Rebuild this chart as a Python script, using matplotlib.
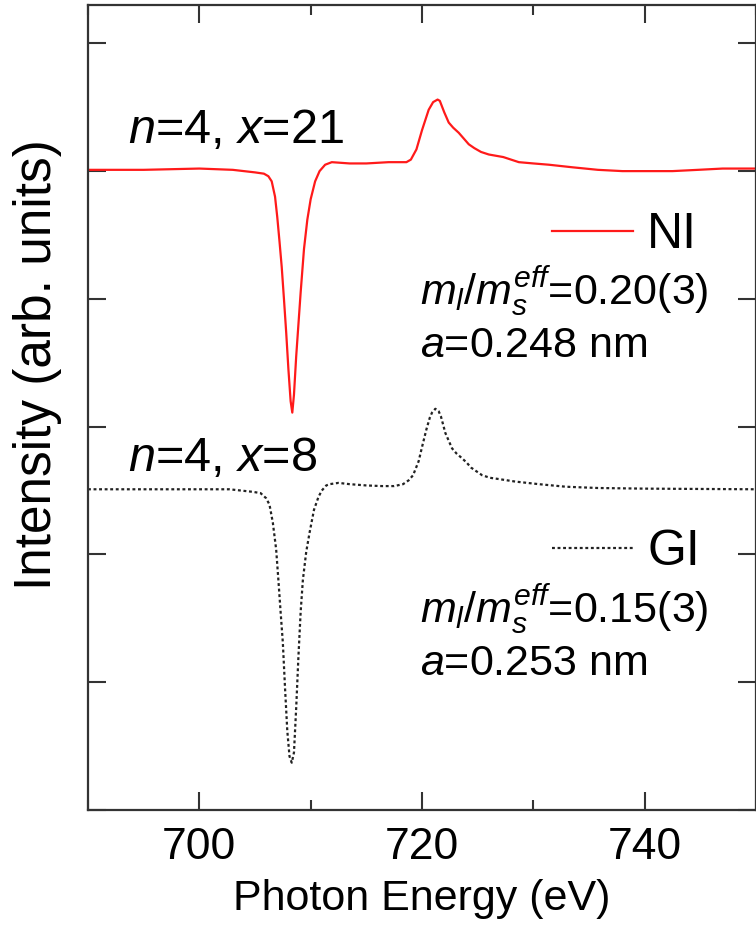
import matplotlib
matplotlib.use("Agg")
import matplotlib.pyplot as plt

plt.rcParams['font.family'] = ['Liberation Sans', 'DejaVu Sans']
plt.rcParams['mathtext.fontset'] = 'custom'
plt.rcParams['mathtext.rm'] = 'Liberation Sans'
plt.rcParams['mathtext.it'] = 'Liberation Sans:italic'
plt.rcParams['mathtext.bf'] = 'Liberation Sans:bold'

# ---- data (photon energy in eV, intensity in arb. units, offset) ----
ni_energy = [690.0, 695.0, 700.0, 703.0, 705.0, 705.8, 706.2, 706.5, 706.8, 707.0,
             707.2, 707.4, 707.6, 707.8, 708.0, 708.2, 708.35, 708.5, 708.7, 708.9,
             709.1, 709.4, 709.7, 710.0, 710.4, 710.8, 711.3, 711.9, 713.5, 715.0,
             717.0, 718.6, 719.0, 719.5, 720.0, 720.6, 721.0, 721.4, 721.6, 722.0,
             722.4, 722.8, 723.3, 723.8, 724.2, 724.7, 725.3, 726.0, 727.3, 728.7,
             730.0, 731.4, 733.5, 735.8, 738.0, 740.3, 742.5, 744.8, 747.0, 750.0]
ni_intensity = [5.01, 5.01, 5.02, 5.01, 4.99, 4.98, 4.96, 4.92, 4.80, 4.64,
                4.45, 4.25, 4.00, 3.74, 3.45, 3.20, 3.11, 3.25, 3.55, 3.80,
                4.05, 4.39, 4.62, 4.78, 4.92, 5.00, 5.05, 5.07, 5.06, 5.06,
                5.07, 5.07, 5.09, 5.17, 5.32, 5.48, 5.54, 5.56, 5.55, 5.46,
                5.38, 5.34, 5.30, 5.25, 5.21, 5.18, 5.15, 5.13, 5.11, 5.07,
                5.06, 5.05, 5.03, 5.01, 5.00, 5.00, 5.00, 5.01, 5.02, 5.02]

gi_energy = [690.0, 702.7, 704.8, 705.5, 706.0, 706.3, 706.6, 706.9, 707.1, 707.3,
             707.5, 707.7, 707.9, 708.1, 708.3, 708.5, 708.7, 708.9, 709.1, 709.3,
             709.6, 709.9, 710.3, 710.7, 711.0, 711.4, 711.7, 712.5, 713.5, 715.0,
             716.4, 717.5, 718.3, 718.8, 719.2, 719.7, 720.0, 720.4, 720.7, 720.9,
             721.2, 721.5, 721.7, 722.1, 722.4, 722.7, 723.1, 723.5, 724.0, 724.4,
             725.4, 726.1, 726.9, 728.4, 730.5, 732.9, 735.8, 740.0, 750.0]
gi_intensity = [2.51, 2.51, 2.49, 2.48, 2.44, 2.39, 2.25, 2.04, 1.80, 1.55,
                1.31, 0.95, 0.62, 0.42, 0.37, 0.45, 0.80, 1.20, 1.55, 1.80,
                2.02, 2.17, 2.35, 2.45, 2.50, 2.54, 2.55, 2.56, 2.55, 2.54,
                2.535, 2.535, 2.55, 2.58, 2.62, 2.73, 2.84, 2.98, 3.07, 3.11,
                3.14, 3.12, 3.08, 2.95, 2.89, 2.83, 2.79, 2.76, 2.72, 2.68,
                2.62, 2.60, 2.59, 2.57, 2.55, 2.53, 2.52, 2.515, 2.51]

x_major = [700, 720, 740]
x_minor = [690, 710, 730, 750]
y_ticks = [0, 1, 2, 3, 4, 5, 6]

labels_top = [r'$n$=4, $x$=21', r'$m_l/m_s^{eff}$=0.20(3)', r'$a$=0.248 nm']
labels_bot = [r'$n$=4, $x$=8', r'$m_l/m_s^{eff}$=0.15(3)', r'$a$=0.253 nm']
series_names = ['NI', 'GI']

fig = plt.figure(figsize=(7.56, 9.26), dpi=100)
ax = fig.add_axes([88/756, 116/926, 668/756, 805/926])

red, = ax.plot(ni_energy, ni_intensity, color='#ff1a1a', lw=1.6)
blk, = ax.plot(gi_energy, gi_intensity, color='#222222', lw=1.6,
               linestyle=(0, (1.3, 1.2)))

ax.set_xlim(690, 750)
ax.set_ylim(0, 6.3)
ax.set_xticks(x_major)
ax.set_xticks(x_minor, minor=True)
ax.set_yticks(y_ticks)
ax.set_yticklabels([])

for s in ax.spines.values():
    s.set_linewidth(1.6)
    s.set_color('#333333')
ax.tick_params(axis='both', which='major', direction='in', length=13, width=1.5,
               color='#333333', top=True, right=True, labelsize=32, pad=12)
ax.tick_params(axis='x', which='minor', direction='in', length=7, width=1.5,
               color='#333333', top=True, bottom=True)
ax.tick_params(axis='y', which='minor', left=False, right=False)

ax.set_xlabel('Photon Energy (eV)', fontsize=31, labelpad=8)
ax.set_ylabel('Intensity (arb. units)', fontsize=37)
ax.yaxis.set_label_coords(-0.039, 0.553)

ax.text(0.06, 0.829, labels_top[0], transform=ax.transAxes, fontsize=35,
        va='baseline', ha='left')
ax.text(0.06, 0.421, labels_bot[0], transform=ax.transAxes, fontsize=35,
        va='baseline', ha='left')

ax.text(0.497, 0.628, labels_top[1], transform=ax.transAxes, fontsize=31,
        va='baseline', ha='left')
ax.text(0.497, 0.563, labels_top[2], transform=ax.transAxes, fontsize=31,
        va='baseline', ha='left')
ax.text(0.497, 0.233, labels_bot[1], transform=ax.transAxes, fontsize=31,
        va='baseline', ha='left')
ax.text(0.497, 0.168, labels_bot[2], transform=ax.transAxes, fontsize=31,
        va='baseline', ha='left')

leg1 = ax.legend([red], [series_names[0]], loc='center left',
                 bbox_to_anchor=(0.695, 0.714), frameon=False, fontsize=36,
                 handlelength=1.62, handletextpad=0.28, borderpad=0,
                 borderaxespad=0)
ax.add_artist(leg1)
ax.legend([blk], [series_names[1]], loc='center left',
          bbox_to_anchor=(0.695, 0.32), frameon=False, fontsize=36,
          handlelength=1.62, handletextpad=0.28, borderpad=0, borderaxespad=0)

fig.savefig('out.png', dpi=100)
